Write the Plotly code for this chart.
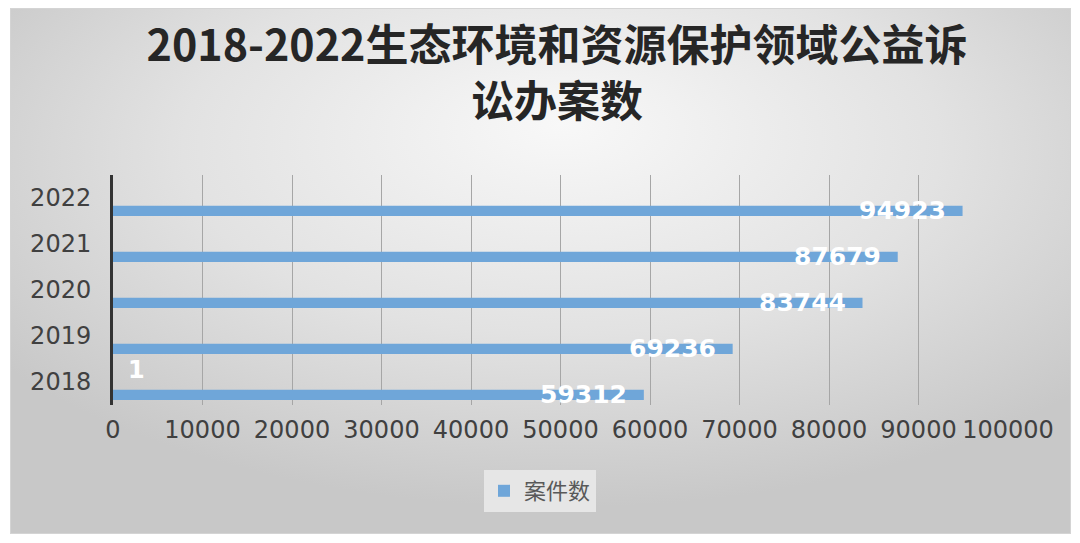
import urllib.parse
import plotly.graph_objects as go

# data
years = ["2018", "2019", "2020", "2021", "2022"]
cases = [59312, 69236, 83744, 87679, 94923]
series_name = "案件数"
# stray label of a second (hidden) series shown near 2018
extra_years = ["2018"]
extra_values = [1]
x_ticks = [0, 10000, 20000, 30000, 40000, 50000, 60000, 70000, 80000, 90000, 100000]

# the page body has an 8px margin, so the figure is sized to fit inside it
W, H = 1064, 527
M_L, M_R, M_T, M_B = 105, 64, 167, 130
plot_w = W - M_L - M_R
plot_h = H - M_T - M_B

BAR = "#6fa6d9"
FONT_NUM = "DejaVu Sans"
FONT_CJK = "Noto Sans CJK SC"

# chart box with a radial grey gradient, drawn as an svg image
box_x0, box_y0, box_x1, box_y1 = 2, 0, 1063, 526
bw, bh = box_x1 - box_x0, box_y1 - box_y0
svg = (
    f'<svg xmlns="http://www.w3.org/2000/svg" width="{bw}" height="{bh}" '
    f'viewBox="0 0 {bw} {bh}" preserveAspectRatio="none">'
    '<defs><radialGradient id="g" cx="52%" cy="30%" r="65%" fx="52%" fy="22%">'
    '<stop offset="0%" stop-color="#f8f8f8"/>'
    '<stop offset="55%" stop-color="#e2e2e2"/>'
    '<stop offset="100%" stop-color="#c8c8c8"/>'
    '</radialGradient></defs>'
    f'<rect x="0.5" y="0.5" width="{bw-1}" height="{bh-1}" fill="url(#g)" '
    'stroke="#d4d4d4" stroke-width="1"/></svg>'
)
svg_src = "data:image/svg+xml;charset=utf-8," + urllib.parse.quote(svg)

fig = go.Figure()

fig.add_trace(go.Bar(
    y=years, x=cases, orientation="h",
    name=series_name,
    marker=dict(color=BAR, line=dict(width=0)),
    width=0.22, offset=-0.39,
    hovertemplate="%{y}: %{x}<extra></extra>",
))

# value labels, white and bold, at the inner end of each bar
# (category index used for y so the labels do not stretch the axis)
annotations = []
for yr, v in zip(years, cases):
    annotations.append(dict(
        x=v, y=years.index(yr), xref="x", yref="y", text=str(v), showarrow=False,
        xanchor="right", yanchor="middle", xshift=-15, yshift=-12,
        font=dict(family=FONT_NUM, size=25, color="white", weight="bold"),
    ))
for yr, v in zip(extra_years, extra_values):
    annotations.append(dict(
        x=v, y=years.index(yr), xref="x", yref="y", text=str(v), showarrow=False,
        xanchor="left", yanchor="middle", xshift=13, yshift=12,
        font=dict(family=FONT_NUM, size=24, color="white", weight="bold"),
    ))

fig.update_layout(
    width=W, height=H,
    margin=dict(l=M_L, r=M_R, t=M_T, b=M_B),
    paper_bgcolor="white",
    plot_bgcolor="rgba(0,0,0,0)",
    title=dict(
        text="2018-2022生态环境和资源保护领域公益诉<br>讼办案数",
        x=549 / W, xref="container", xanchor="center",
        y=1 - 53 / H, yref="container", yanchor="top",
        font=dict(family=FONT_CJK, size=43, color="#262626", weight="bold"),
    ),
    showlegend=True,
    legend=dict(
        orientation="h",
        x=(532 - M_L) / plot_w, xanchor="center",
        y=(H - M_B - 462) / plot_h, yanchor="top",
        bgcolor="#e6e6e6",
        font=dict(family=FONT_CJK, size=22, color="#595959"),
        itemwidth=30,
    ),
    xaxis=dict(
        range=[0, 100000],
        tickvals=x_ticks,
        ticktext=[str(t) for t in x_ticks],
        showgrid=True, gridcolor="#a6a6a6", gridwidth=1,
        zeroline=False, showline=False,
        ticks="", ticklabelstandoff=8,
        tickfont=dict(family=FONT_NUM, size=24, color="#404040"),
        fixedrange=True,
    ),
    yaxis=dict(
        type="category",
        categoryorder="array", categoryarray=years,
        range=[-0.5, len(years) - 0.5],
        showgrid=False, zeroline=False,
        showline=True, linecolor="#333333", linewidth=3,
        ticks="", ticklabelstandoff=14,
        tickfont=dict(family=FONT_NUM, size=24, color="#404040"),
        fixedrange=True,
    ),
    annotations=annotations,
    images=[dict(
        source=svg_src, xref="paper", yref="paper",
        x=(box_x0 - M_L) / plot_w, y=(H - M_B - box_y0) / plot_h,
        sizex=bw / plot_w, sizey=bh / plot_h,
        xanchor="left", yanchor="top",
        sizing="stretch", layer="below",
    )],
)

fig.write_html("out.html")
